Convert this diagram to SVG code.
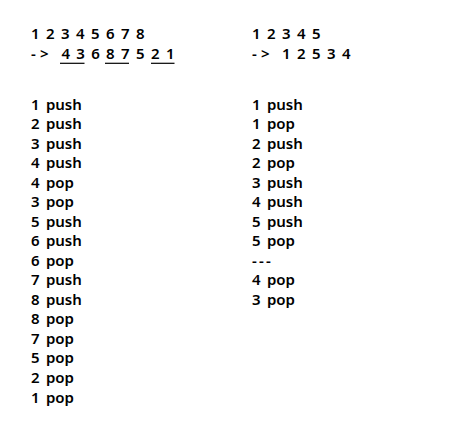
<svg xmlns="http://www.w3.org/2000/svg" width="456" height="427" viewBox="0 0 456 427">
<style>
text{font-family:"Noto Sans","DejaVu Sans",sans-serif;font-size:15px;font-weight:600;fill:#000;word-spacing:2.4px}
.dash{letter-spacing:2.2px}
.ul{stroke:#000;stroke-width:1.2}
</style>
<rect width="456" height="427" fill="#fff"/>
<g id="left">
<text y="39.4"><tspan x="31">1 </tspan><tspan x="46">2 </tspan><tspan x="61">3 </tspan><tspan x="76">4 </tspan><tspan x="91">5 </tspan><tspan x="106">6 </tspan><tspan x="121">7 </tspan><tspan x="136">8</tspan></text>
<text y="59.2"><tspan x="31">-</tspan><tspan x="40">&gt; </tspan><tspan x="61.5">4 </tspan><tspan x="76.3">3 </tspan><tspan x="91.2">6 </tspan><tspan x="106">8 </tspan><tspan x="121">7 </tspan><tspan x="136">5 </tspan><tspan x="151">2 </tspan><tspan x="166">1</tspan></text>
<g id="underlines">
<line class="ul" x1="60" y1="63.3" x2="84.5" y2="63.3"/>
<line class="ul" x1="105" y1="63.3" x2="129" y2="63.3"/>
<line class="ul" x1="151" y1="63.3" x2="174.5" y2="63.3"/>
</g>
<text x="31" y="109.5">1 push</text>
<text x="31" y="129.0">2 push</text>
<text x="31" y="148.6">3 push</text>
<text x="31" y="168.1">4 push</text>
<text x="31" y="187.6">4 pop</text>
<text x="31" y="207.2">3 pop</text>
<text x="31" y="226.7">5 push</text>
<text x="31" y="246.2">6 push</text>
<text x="31" y="265.7">6 pop</text>
<text x="31" y="285.3">7 push</text>
<text x="31" y="304.8">8 push</text>
<text x="31" y="324.3">8 pop</text>
<text x="31" y="343.9">7 pop</text>
<text x="31" y="363.4">5 pop</text>
<text x="31" y="382.9">2 pop</text>
<text x="31" y="402.5">1 pop</text>
</g>
<g id="right">
<text y="39.4"><tspan x="252">1 </tspan><tspan x="267">2 </tspan><tspan x="282">3 </tspan><tspan x="297">4 </tspan><tspan x="312">5</tspan></text>
<text y="59.2"><tspan x="252">-</tspan><tspan x="261">&gt; </tspan><tspan x="282">1 </tspan><tspan x="297">2 </tspan><tspan x="312">5 </tspan><tspan x="327">3 </tspan><tspan x="342">4</tspan></text>
<text x="252" y="109.5">1 push</text>
<text x="252" y="129.0">1 pop</text>
<text x="252" y="148.6">2 push</text>
<text x="252" y="168.1">2 pop</text>
<text x="252" y="187.6">3 push</text>
<text x="252" y="207.2">4 push</text>
<text x="252" y="226.7">5 push</text>
<text x="252" y="246.2">5 pop</text>
<text class="dash" x="252" y="265.7">---</text>
<text x="252" y="285.3">4 pop</text>
<text x="252" y="304.8">3 pop</text>
</g>
</svg>
